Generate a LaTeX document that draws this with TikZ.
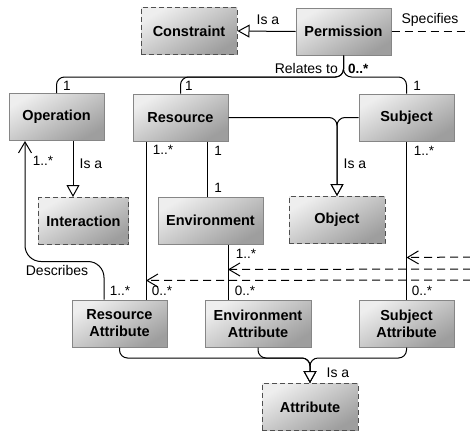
\documentclass[tikz,border=0pt]{standalone}
\usepackage{fontspec}
\setmainfont{Liberation Sans}
\usetikzlibrary{arrows.meta}

\definecolor{boxlight}{HTML}{EEEEEE}
\definecolor{boxdark}{HTML}{9E9E9E}
\definecolor{boxline}{HTML}{868686}
\definecolor{dashline}{HTML}{505050}

\begin{document}
\begin{tikzpicture}[x=1pt,y=-1pt,
  box/.style={draw=boxline, line width=1pt, top color=boxlight, bottom color=boxdark,
    shading angle=30, minimum width=95pt, minimum height=47pt, inner sep=0pt,
    align=center, font=\fontsize{14.5}{17}\selectfont\bfseries},
  abstractbox/.style={box, draw=dashline, dash pattern=on 5pt off 3pt},
  lab/.style={inner sep=0pt, font=\fontsize{14}{16}\selectfont},
  mult/.style={inner sep=0pt, font=\fontsize{13.5}{16}\selectfont},
  link/.style={line width=1pt, rounded corners=8pt},
  isa/.style={link, -{Triangle[fill=white, length=12pt, width=13pt]}},
  nav/.style={link, -{Straight Barb[length=11pt, width=13pt]}},
  dep/.style={line width=1pt, dash pattern=on 8pt off 5pt,
    -{Straight Barb[length=11pt, width=13pt]}}]

\useasboundingbox (0,0) rectangle (470,431);

% classes
\node[box] (perm) at (343.5,31.5) {Permission};
\node[abstractbox, minimum width=96pt] (constraint) at (189,31) {Constraint};
\node[box] (op) at (56.5,117) {Operation};
\node[box] (res) at (180.5,117.5) {Resource};
\node[box] (subj) at (406.5,117.5) {Subject};
\node[abstractbox, minimum width=90pt] (inter) at (83.5,221) {Interaction};
\node[box, minimum width=105pt] (env) at (210.5,220.5) {Environment};
\node[abstractbox, minimum width=96pt] (obj) at (337,220) {Object};
\node[box] (resattr) at (119.5,323.5) {Resource\\Attribute};
\node[box, minimum width=106pt] (envattr) at (258,323.5) {Environment\\Attribute};
\node[box] (subjattr) at (406.5,323.5) {Subject\\Attribute};
\node[abstractbox, minimum width=96pt] (attr) at (310,407) {Attribute};

% helper points
\coordinate (relj) at (343.5,77);
\coordinate (opI) at ([xshift=16.5pt]op.south);
\coordinate (descTop) at ([xshift=-31.5pt]op.south);
\coordinate (descBot) at ([xshift=-15.5pt]resattr.north);
\coordinate (resL) at ([xshift=-34.5pt]res.south);
\coordinate (resR) at ([xshift=26.5pt]res.south);
\coordinate (envB) at ([xshift=17.5pt]env.south);
\coordinate (attrJ) at (310,358);
\path (subj.south) ++(0,116) coordinate (subjTie);
\path (envB) ++(0,25) coordinate (envTie);
\path (resL) ++(0,139) coordinate (resTie);
\coordinate (specEnd) at (471,31.5);
\coordinate (farA) at (471,257);
\coordinate (farB) at (471,269);
\coordinate (farC) at (471,280);

% generalisations
\draw[isa] (perm.west) -- (constraint.east);
\draw[isa] (opI) -- (opI |- inter.north);
\draw[isa] (res.east) -| (obj.north);
\draw[isa] (subj.west) -| (obj.north);
\draw[isa] (resattr.south) |- (attrJ) -- (attr.north);
\draw[isa] (envattr.south) |- (attrJ) -- (attr.north);
\draw[isa] (subjattr.south) |- (attrJ) -- (attr.north);

% associations
\draw[link] (perm.south) -- (relj) -| (op.north);
\draw[link] (perm.south) -- (relj) -| (res.north);
\draw[link] (perm.south) -- (relj) -| (subj.north);
\draw[nav, rounded corners=16pt] (descBot) -- ++(0,-38) -| (descTop);
\draw[link] (resL) -- (resL |- resattr.north);
\draw[link] (resR) -- (resR |- env.north);
\draw[link] (envB) -- (envB |- envattr.north);
\draw[link] (subj.south) -- (subjattr.north);

% dependencies
\draw[line width=1pt, dash pattern=on 8pt off 5pt] (perm.east) -- (specEnd);
\draw[dep] (farA) -- (subjTie);
\draw[dep] (farB) -- (envTie);
\draw[dep] (farC) -- (resTie);

% labels
\node[lab] (l1) at (268,20) {Is a};
\node[lab] (l2) at (430,20) {Specifies};
\node[lab, anchor=east] (l3) at (338,68.5) {Relates to};
\node[mult, anchor=west, font=\fontsize{13.5}{16}\selectfont\bfseries] (m0) at (348,68.5) {0..*};
\node[mult] (m1) at (67,85.5) {1};
\node[mult] (m2) at (189,85.5) {1};
\node[mult] (m3) at (417,85.5) {1};
\node[lab] (l4) at (91,164) {Is a};
\node[mult] (m4) at (43,161) {1..*};
\node[mult] (m5) at (163,150) {1..*};
\node[mult] (m6) at (218,151) {1};
\node[mult] (m7) at (218,188) {1};
\node[lab] (l5) at (355,164) {Is a};
\node[mult] (m8) at (424,151) {1..*};
\node[mult] (m9) at (246,254) {1..*};
\node[lab] (l6) at (57,270) {Describes};
\node[mult] (m10) at (120,290.5) {1..*};
\node[mult] (m11) at (162,290.5) {0..*};
\node[mult] (m12) at (245,290.5) {0..*};
\node[mult] (m13) at (422,290.5) {0..*};
\node[lab] (l7) at (338,373) {Is a};
\end{tikzpicture}
\end{document}
